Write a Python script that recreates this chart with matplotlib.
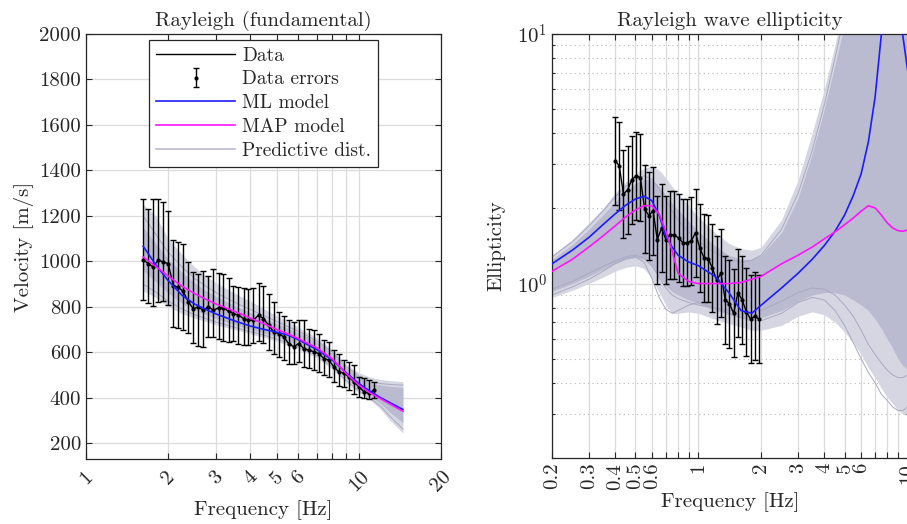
import matplotlib
matplotlib.use('Agg')
import matplotlib.pyplot as plt
from matplotlib.lines import Line2D
from matplotlib.ticker import FixedLocator, FixedFormatter, NullLocator

plt.rcParams['font.family'] = ['cmr10']
plt.rcParams['mathtext.fontset'] = 'cm'
plt.rcParams['axes.formatter.use_mathtext'] = True
plt.rcParams['axes.unicode_minus'] = False

# ---------------- left panel: Rayleigh (fundamental) ----------------
freq_data = [1.62, 1.69, 1.76, 1.84, 1.92, 2.00, 2.09, 2.18, 2.27, 2.37, 2.47, 2.58,
             2.69, 2.81, 2.93, 3.06, 3.19, 3.33, 3.47, 3.62, 3.78, 3.94, 4.11, 4.29,
             4.47, 4.67, 4.87, 5.08, 5.30, 5.53, 5.77, 6.02, 6.28, 6.55, 6.83, 7.13,
             7.44, 7.76, 8.09, 8.44, 8.81, 9.19, 9.58, 10.0, 10.43, 10.88, 11.35]
vel_data = [1007, 990, 975, 1005, 997, 990, 893, 885, 868, 822, 792, 798,
            785, 800, 785, 795, 795, 780, 770, 763, 748, 741, 741, 763,
            748, 719, 690, 682, 668, 638, 624, 638, 616, 609, 602, 594,
            572, 565, 536, 514, 507, 492, 470, 448, 426, 419, 433]
vel_hi = [1275, 1231, 1275, 1275, 1260, 1221, 1095, 1085, 1075, 997, 955, 945,
          958, 935, 968, 950, 945, 925, 890, 888, 882, 880, 884, 905,
          892, 858, 821, 778, 760, 741, 734, 741, 741, 704, 697, 682,
          653, 646, 609, 594, 565, 558, 543, 492, 485, 477, 470]
vel_lo = [830, 815, 805, 820, 825, 808, 712, 706, 696, 684, 640, 628,
          625, 665, 668, 660, 648, 645, 648, 638, 632, 630, 640, 650,
          640, 610, 590, 580, 565, 550, 548, 555, 535, 530, 522, 515,
          500, 492, 468, 452, 448, 435, 418, 405, 400, 395, 398]

freq_model = [1.62, 1.8, 2.0, 2.25, 2.5, 2.75, 3.0, 3.5, 4.0, 4.5, 5.0,
              5.5, 6.0, 7.0, 8.0, 9.0, 10.0, 11.0, 12.0, 13.0, 14.5]
vel_ml = [1066, 985, 915, 850, 812, 788, 768, 738, 715, 700, 688,
          675, 655, 612, 565, 508, 462, 428, 400, 378, 348]
vel_map = [1019, 978, 935, 890, 858, 833, 812, 780, 750, 725, 700,
           680, 660, 620, 570, 505, 455, 420, 396, 372, 340]
pred_outer_hi = [1250, 1200, 1100, 1030, 975, 935, 905, 860, 825, 790, 760,
                 735, 710, 665, 610, 545, 510, 490, 480, 475, 470]
pred_outer_lo = [870, 840, 800, 770, 750, 735, 720, 700, 680, 665, 648,
                 630, 612, 575, 525, 465, 420, 390, 350, 300, 245]
pred_inner_hi = [1150, 1080, 1010, 950, 905, 870, 845, 805, 775, 750, 725,
                 705, 685, 645, 595, 530, 490, 465, 455, 450, 445]
pred_inner_lo = [960, 910, 860, 815, 785, 765, 748, 722, 700, 685, 668,
                 650, 632, 595, 545, 485, 440, 405, 375, 335, 290]
pred_line_a = [1200, 1120, 1040, 975, 925, 890, 862, 820, 788, 760, 735,
               712, 692, 650, 600, 535, 495, 470, 462, 458, 455]
pred_line_b = [900, 865, 825, 790, 765, 748, 732, 710, 690, 675, 658,
               640, 622, 585, 535, 475, 430, 398, 362, 318, 262]

# ---------------- right panel: ellipticity ----------------
freq_ell = [0.400, 0.419, 0.439, 0.460, 0.482, 0.505, 0.529, 0.554, 0.581, 0.608,
            0.637, 0.668, 0.700, 0.733, 0.768, 0.805, 0.843, 0.884, 0.926, 0.970,
            1.016, 1.065, 1.116, 1.169, 1.225, 1.283, 1.345, 1.409, 1.476, 1.547,
            1.621, 1.698, 1.779, 1.864, 1.953]
ell_data = [3.11, 2.97, 2.28, 2.38, 2.61, 2.70, 2.66, 1.99, 1.87, 1.96,
            1.50, 1.67, 1.50, 1.57, 1.57, 1.52, 1.46, 1.46, 1.48, 1.60,
            1.39, 1.27, 1.26, 1.15, 1.03, 1.10, 0.86, 0.83, 0.76, 0.92,
            0.86, 0.77, 0.72, 0.74, 0.72]
ell_err_factor = 1.5

freq_ell_model = [0.2, 0.25, 0.3, 0.35, 0.4, 0.45, 0.5, 0.55, 0.6, 0.65, 0.7, 0.75,
                  0.8, 0.9, 1.0, 1.2, 1.4, 1.6, 1.8, 2.0, 2.5, 3.0, 3.5, 4.0,
                  4.5, 5.0, 5.5, 6.0, 6.5, 7.0, 7.5, 8.0, 8.5, 9.0, 9.5, 10.0, 10.5]
ell_ml = [1.20, 1.36, 1.53, 1.72, 1.90, 2.06, 2.18, 2.24, 2.15, 1.88, 1.55, 1.40,
          1.30, 1.22, 1.18, 1.07, 0.92, 0.78, 0.76, 0.82, 0.96, 1.10, 1.25, 1.42,
          1.62, 1.88, 2.25, 2.75, 3.7, 5.6, 10.0, 16.0, 22.0, 15.0, 9.8, 7.2, 5.8]
ell_map = [1.12, 1.25, 1.40, 1.55, 1.70, 1.85, 1.97, 2.05, 2.05, 1.90, 1.62, 1.35,
           1.10, 1.02, 1.00, 1.00, 1.00, 1.01, 1.04, 1.07, 1.20, 1.30, 1.40, 1.51,
           1.61, 1.72, 1.83, 1.95, 2.05, 2.01, 1.88, 1.75, 1.67, 1.63, 1.62, 1.64, 1.66]
ell_outer_hi = [1.30, 1.50, 1.75, 2.0, 2.3, 2.55, 2.75, 2.9, 2.95, 2.85, 2.65, 2.45,
                2.3, 2.05, 1.85, 1.6, 1.45, 1.38, 1.36, 1.4, 1.8, 2.6, 4.0, 6.0,
                9.0, 14, 20, 20, 20, 20, 20, 20, 20, 20, 20, 20, 20]
ell_outer_lo = [0.88, 0.94, 1.0, 1.06, 1.12, 1.16, 1.18, 1.15, 1.05, 0.92, 0.82, 0.76,
                0.76, 0.77, 0.76, 0.72, 0.69, 0.67, 0.65, 0.65, 0.68, 0.74, 0.77, 0.75,
                0.70, 0.64, 0.58, 0.52, 0.46, 0.42, 0.38, 0.35, 0.33, 0.31, 0.30, 0.30, 0.30]
ell_inner_hi = [1.25, 1.43, 1.65, 1.88, 2.12, 2.35, 2.52, 2.62, 2.6, 2.45, 2.25, 2.1,
                1.98, 1.78, 1.62, 1.42, 1.3, 1.25, 1.25, 1.3, 1.6, 2.2, 3.3, 5.0,
                7.5, 11, 20, 20, 20, 20, 20, 20, 20, 20, 20, 20, 20]
ell_inner_lo = [0.93, 1.0, 1.07, 1.14, 1.2, 1.25, 1.27, 1.25, 1.17, 1.07, 0.98, 0.93,
                0.9, 0.86, 0.83, 0.78, 0.75, 0.73, 0.72, 0.73, 0.78, 0.85, 0.90, 0.92,
                0.92, 0.90, 0.86, 0.82, 0.78, 0.72, 0.66, 0.60, 0.55, 0.50, 0.47, 0.45, 0.44]
ell_line_a = [0.90, 0.97, 1.04, 1.12, 1.20, 1.26, 1.28, 1.22, 1.05, 0.88, 0.79, 0.76,
              0.78, 0.82, 0.84, 0.80, 0.76, 0.73, 0.71, 0.71, 0.76, 0.84, 0.88, 0.86,
              0.78, 0.68, 0.58, 0.50, 0.44, 0.40, 0.36, 0.34, 0.32, 0.31, 0.31, 0.32, 0.33]
ell_line_b = [1.28, 1.47, 1.70, 1.95, 2.22, 2.45, 2.62, 2.70, 2.62, 2.40, 2.15, 1.95,
              1.80, 1.60, 1.48, 1.33, 1.25, 1.22, 1.24, 1.30, 1.65, 2.3, 3.4, 5.2,
              8.0, 12, 18, 25, 30, 30, 30, 30, 30, 30, 30, 30, 30]
ell_line_c = [0.95, 1.02, 1.10, 1.17, 1.23, 1.28, 1.30, 1.27, 1.18, 1.06, 0.96, 0.90,
              0.87, 0.84, 0.82, 0.80, 0.78, 0.77, 0.77, 0.78, 0.85, 0.92, 0.96, 0.95,
              0.90, 0.82, 0.74, 0.65, 0.57, 0.52, 0.48, 0.45, 0.43, 0.42, 0.42, 0.43, 0.45]

left_xticks = [1, 2, 3, 4, 5, 6, 7, 8, 9, 10, 20]
left_xlabels = ['1', '2', '3', '4', '5', '6', '', '', '', '10', '20']
left_yticks = [200, 400, 600, 800, 1000, 1200, 1400, 1600, 1800, 2000]
right_xticks = [0.2, 0.3, 0.4, 0.5, 0.6, 0.7, 0.8, 0.9, 1, 2, 3, 4, 5, 6, 7, 8, 9, 10]
right_xlabels = ['0.2', '0.3', '0.4', '0.5', '0.6', '', '', '', '1',
                 '2', '3', '4', '5', '6', '', '', '', '10']
right_yminor = [0.2, 0.3, 0.4, 0.5, 0.6, 0.7, 0.8, 0.9, 2, 3, 4, 5, 6, 7, 8, 9]

c_pred = '#babad0'
c_pred_out = '#d6d6e3'
c_pred_line = '#a9a9c3'
c_ml = '#1c1cff'
c_map = '#ff14ff'
c_txt = '#262626'

fig = plt.figure(figsize=(9.07, 5.24), dpi=100)
ax1 = fig.add_axes([86 / 907, 1 - 459 / 524, 355 / 907, 425 / 524])
ax2 = fig.add_axes([552 / 907, 1 - 458 / 524, 356 / 907, 424 / 524])


def style_axes(ax):
    ax.set_axisbelow(True)
    for s in ax.spines.values():
        s.set_color(c_txt)
        s.set_linewidth(0.9)
    ax.tick_params(which='both', direction='in', top=True, right=True,
                   colors=c_txt, labelsize=15, length=4, width=0.8)
    ax.tick_params(which='minor', length=2.5)


# left
ax1.fill_between(freq_model, pred_outer_lo, pred_outer_hi, color=c_pred_out, lw=0, zorder=1)
ax1.fill_between(freq_model, pred_inner_lo, pred_inner_hi, color=c_pred, lw=0, zorder=1)
ax1.plot(freq_model, pred_line_a, color=c_pred_line, lw=0.7, zorder=1.5)
ax1.plot(freq_model, pred_line_b, color=c_pred_line, lw=0.7, zorder=1.5)
ax1.errorbar(freq_data, vel_data,
             yerr=[[v - l for v, l in zip(vel_data, vel_lo)],
                   [h - v for v, h in zip(vel_data, vel_hi)]],
             fmt='.', color='k', ms=4, elinewidth=1, capsize=2.2, capthick=1, zorder=3,
             label='Data errors')
ax1.plot(freq_data, vel_data, color='k', lw=1, zorder=3, label='Data')
ax1.plot(freq_model, vel_ml, color=c_ml, lw=1.2, zorder=4, label='ML model')
ax1.plot(freq_model, vel_map, color=c_map, lw=1.2, zorder=4, label='MAP model')
pred_proxy = Line2D([], [], color=c_pred, lw=1.2)

ax1.set_xscale('log')
ax1.set_xlim(1, 20)
ax1.set_ylim(130, 2000)
ax1.xaxis.set_major_locator(FixedLocator(left_xticks))
ax1.xaxis.set_major_formatter(FixedFormatter(left_xlabels))
ax1.xaxis.set_minor_locator(NullLocator())
ax1.set_yticks(left_yticks)
ax1.set_yticklabels([str(t) for t in left_yticks])
style_axes(ax1)
for lab in ax1.get_xticklabels():
    lab.set_rotation(45)
    lab.set_ha('center')
ax1.tick_params(axis='x', pad=6)
ax1.grid(True, which='major', color='#dcdcdc', lw=0.9)
ax1.set_xlabel('Frequency [Hz]', fontsize=15, color=c_txt)
ax1.set_ylabel('Velocity [m/s]', fontsize=15, color=c_txt)
ax1.set_title('Rayleigh (fundamental)', fontsize=15, color=c_txt, pad=6)

h, l = ax1.get_legend_handles_labels()
order = {'Data': 0, 'Data errors': 1, 'ML model': 2, 'MAP model': 3}
pairs = sorted(zip(h, l), key=lambda p: order[p[1]])
handles = [p[0] for p in pairs] + [pred_proxy]
labels = [p[1] for p in pairs] + ['Predictive dist.']
leg = ax1.legend(handles, labels, loc='upper center', bbox_to_anchor=(0.5, 0.995),
                 borderaxespad=0.2,
                 fontsize=14, handlelength=4.1, handletextpad=0.35, labelspacing=0.3,
                 borderpad=0.35, fancybox=False, edgecolor=c_txt, framealpha=1)
leg.get_frame().set_linewidth(0.9)
for t in leg.get_texts():
    t.set_color(c_txt)

# right
ax2.fill_between(freq_ell_model, ell_outer_lo, ell_outer_hi, color=c_pred_out, lw=0, zorder=1)
ax2.fill_between(freq_ell_model, ell_inner_lo, ell_inner_hi, color=c_pred, lw=0, zorder=1)
for line in (ell_line_a, ell_line_b, ell_line_c):
    ax2.plot(freq_ell_model, line, color=c_pred_line, lw=0.7, zorder=1.5)
ax2.errorbar(freq_ell, ell_data,
             yerr=[[e - e / ell_err_factor for e in ell_data],
                   [e * ell_err_factor - e for e in ell_data]],
             fmt='.', color='k', ms=4, elinewidth=1, capsize=2.2, capthick=1, zorder=3)
ax2.plot(freq_ell, ell_data, color='k', lw=1, zorder=3)
ax2.plot(freq_ell_model, ell_ml, color=c_ml, lw=1.2, zorder=4)
ax2.plot(freq_ell_model, ell_map, color=c_map, lw=1.2, zorder=4)

ax2.set_xscale('log')
ax2.set_yscale('log')
ax2.set_xlim(0.2, 10.05)
ax2.set_ylim(0.2, 10)
ax2.xaxis.set_major_locator(FixedLocator(right_xticks))
ax2.xaxis.set_major_formatter(FixedFormatter(right_xlabels))
ax2.xaxis.set_minor_locator(NullLocator())
ax2.yaxis.set_major_locator(FixedLocator([1, 10]))
ax2.yaxis.set_major_formatter(FixedFormatter(['$10^{0}$', '$10^{1}$']))
ax2.yaxis.set_minor_locator(FixedLocator(right_yminor))
ax2.yaxis.set_minor_formatter(FixedFormatter([''] * len(right_yminor)))
style_axes(ax2)
for lab in ax2.get_xticklabels():
    lab.set_rotation(90)
    lab.set_ha('center')
ax2.grid(True, which='major', color='#dcdcdc', lw=0.9)
ax2.yaxis.grid(True, which='minor', color='#b8b8b8', lw=0.8, ls=(0, (1, 3)))
ax2.set_xlabel('Frequency [Hz]', fontsize=15, color=c_txt, labelpad=2)
ax2.set_ylabel('Ellipticity', fontsize=15, color=c_txt, labelpad=8)
ax2.set_title('Rayleigh wave ellipticity', fontsize=15, color=c_txt, pad=6)

fig.savefig('out.png', dpi=100)
